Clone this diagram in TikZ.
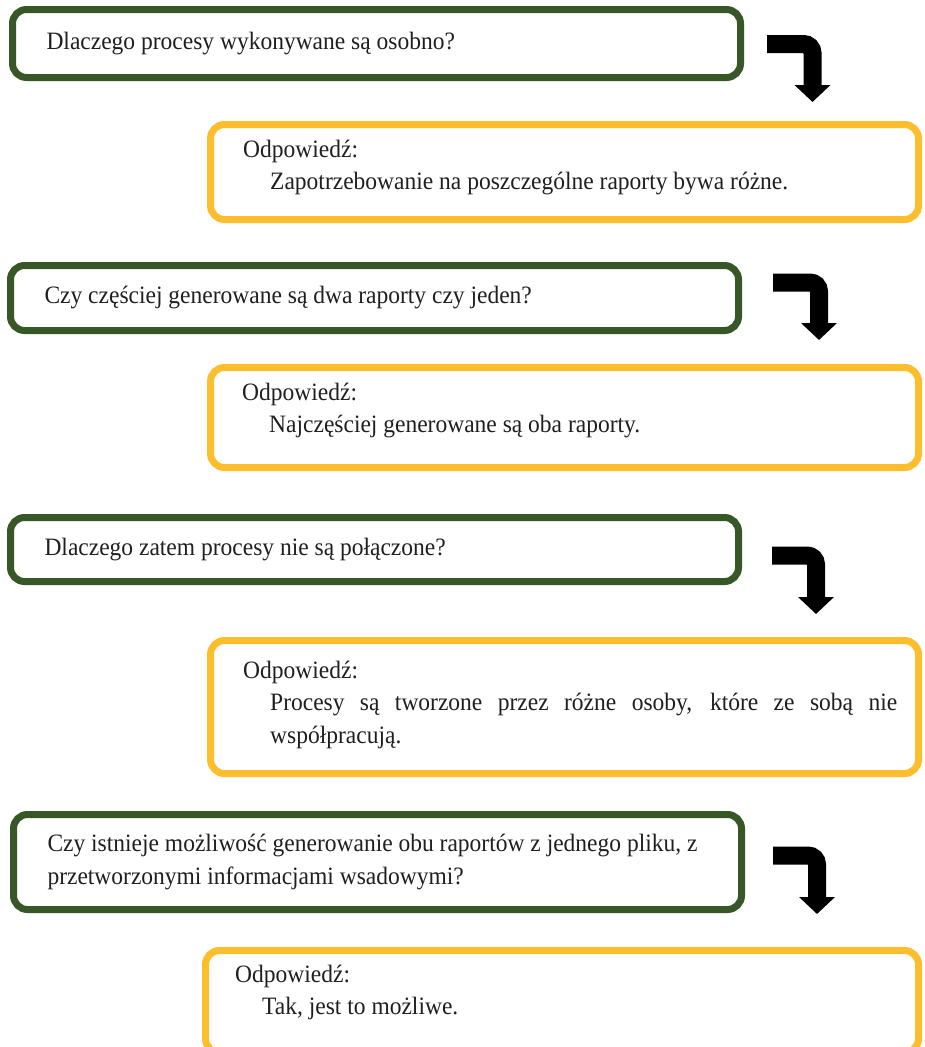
\documentclass[tikz,border=0pt]{standalone}
\usepackage{fontspec}
\setmainfont[FakeStretch=0.94]{Liberation Serif}
\usetikzlibrary{positioning, arrows.meta}
\definecolor{qgreen}{RGB}{56,87,38}
\definecolor{agold}{RGB}{252,190,45}
\hyphenpenalty=10000
\newcommand{\odp}[1]{Odpowiedź:\par{\leftskip=27pt #1\par}}

\begin{document}
\begin{tikzpicture}[x=1pt,y=-1pt,
    every node/.style={font=\fontsize{25}{32.5}\selectfont, text=black!88},
    qbox/.style={draw=qgreen, line width=7pt, rounded corners=14pt, anchor=north west, inner xsep=34pt, text width=660pt, align=flush left, minimum width=728pt},
    abox/.style={draw=agold, line width=7pt, rounded corners=14pt, anchor=north west, minimum width=708pt},
    atext/.style={inner sep=0pt, text width=654pt, align=justify},
    turn/.style={line width=18pt, rounded corners=9pt, -{Triangle[width=35pt,length=17pt]}}]
    \useasboundingbox (0,0) rectangle (924,1047);

    % pytania
    \node[qbox, minimum height=68pt] (q1) at (9,6) {Dlaczego procesy wykonywane są osobno?};
    \node[qbox, minimum height=65pt] (q2) at (7,262) {Czy częściej generowane są dwa raporty czy jeden?};
    \node[qbox, minimum height=64pt] (q3) at (7,514) {Dlaczego zatem procesy nie są połączone?};
    \node[qbox, minimum height=95pt] (q4) at (10,811) {Czy istnieje możliwość generowanie obu raportów z jednego pliku, z\\przetworzonymi informacjami wsadowymi?};

    % odpowiedzi
    \node[abox, minimum height=95pt] (a1) at (207,121) {};
    \node[abox, minimum height=100pt] (a2) at (207,364) {};
    \node[abox, minimum height=133pt] (a3) at (207,637) {};
    \node[abox, minimum height=102pt, minimum width=713pt] (a4) at (202,947) {};

    \node[atext, below right=36pt and 36pt of a1.north west, anchor=base west] (a1t) {\odp{Zapotrzebowanie na poszczególne raporty bywa różne.}};
    \node[atext, below right=36pt and 35pt of a2.north west, anchor=base west] (a2t) {\odp{Najczęściej generowane są oba raporty.}};
    \node[atext, below right=41pt and 36pt of a3.north west, anchor=base west] (a3t) {\odp{Procesy są tworzone przez różne osoby, które ze sobą nie współpracują.}};
    \node[atext, below right=35pt and 33pt of a4.north west, anchor=base west] (a4t) {\odp{Tak, jest to możliwe.}};

    % strzalki
    \coordinate (s1) at (767,44);
    \coordinate (e1) at (812.5,102);
    \coordinate (s2) at (773,282.5);
    \coordinate (e2) at (819,340);
    \coordinate (s3) at (772,555.5);
    \coordinate (e3) at (816,614);
    \coordinate (s4) at (773,855.5);
    \coordinate (e4) at (817,914);
    \draw[turn] (s1) -| (e1);
    \draw[turn] (s2) -| (e2);
    \draw[turn] (s3) -| (e3);
    \draw[turn] (s4) -| (e4);
\end{tikzpicture}
\end{document}
